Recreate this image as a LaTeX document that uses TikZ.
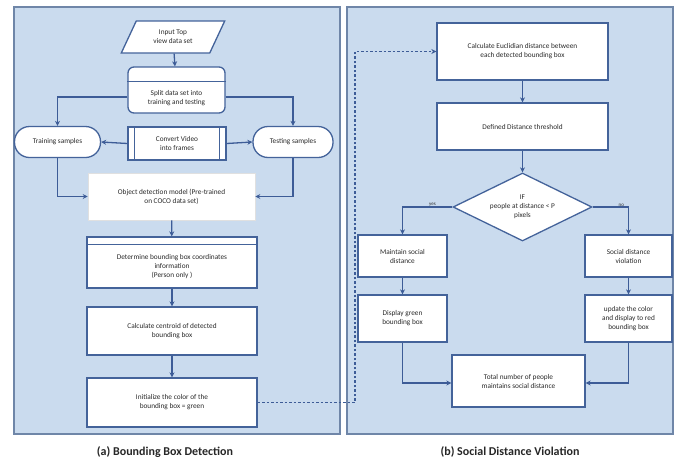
\documentclass[tikz,border=0pt]{standalone}
\usepackage{fontspec}
\setmainfont{Carlito}
\usetikzlibrary{shapes.geometric,arrows.meta,calc}
\definecolor{panelfill}{HTML}{CADBEE}
\definecolor{panelline}{HTML}{6F86A8}
\definecolor{linec}{HTML}{3D5C97}
\definecolor{boxline}{HTML}{44639A}
\definecolor{txtc}{HTML}{2A2A2A}
\tikzset{
  panel/.style={draw=panelline,fill=panelfill,line width=1.2pt},
  stepbox/.style={draw=boxline,fill=white,line width=1.3pt,rectangle,inner sep=1pt,align=center,font=\fontsize{7.3}{9}\selectfont,text=txtc},
  roundbox/.style={stepbox,rounded corners=14pt},
  txt/.style={align=center,font=\fontsize{7.3}{9}\selectfont,text=txtc,inner sep=0pt},
  arr/.style={draw=linec,line width=1.3pt,-{Stealth[length=5pt,width=5pt]}},
  dsh/.style={draw=linec,line width=1.3pt,dash pattern=on 2.5pt off 2pt,-{Stealth[length=5pt,width=5pt]}},
  lab/.style={font=\fontsize{5}{6}\selectfont,text=txtc,inner sep=1pt},
  captext/.style={font=\fontsize{12}{14}\selectfont\bfseries,text=black!85}
}
\begin{document}
\begin{tikzpicture}[x=1pt,y=-1pt]
\useasboundingbox (0,0) rectangle (685,461);
\fill[white] (0,0) rectangle (685,461);
% panels
\draw[panel] (14,7) rectangle (340,434);
\draw[panel] (347,7) rectangle (673,434);
\node[captext] (capa) at (165,452) {(a) Bounding Box Detection};
\node[captext] (capb) at (510,452) {(b) Social Distance Violation};
% left column
\node[stepbox,trapezium,trapezium left angle=62,trapezium right angle=118,trapezium stretches=true,minimum width=104pt,minimum height=32pt] (input) at (173,37) {Input Top\\view data set};
\node[stepbox,rounded corners=6pt,minimum width=97pt,minimum height=46pt] (split) at (176.5,90) {};
\draw[boxline,line width=1.3pt] ($(split.north west)+(0,15)$) -- ($(split.north east)+(0,15)$);
\node[txt] (splitt) at (176.5,98) {Split data set into\\training and testing};
\node[roundbox,rounded corners=15pt,minimum width=86pt,minimum height=31pt] (train) at (57.5,142) {Training samples};
\node[roundbox,rounded corners=15pt,minimum width=80pt,minimum height=31pt] (test) at (293,142) {Testing samples};
\node[stepbox,minimum width=98pt,minimum height=33pt] (conv) at (177,143.5) {Convert Video\\into frames};
\draw[boxline,line width=1.1pt] ($(conv.north west)+(7,0)$) -- ($(conv.south west)+(7,0)$);
\draw[boxline,line width=1.1pt] ($(conv.north east)+(-7,0)$) -- ($(conv.south east)+(-7,0)$);
\node[stepbox,draw=black!12,line width=0.6pt,minimum width=167pt,minimum height=47pt] (obj) at (171.5,196.5) {Object detection model  (Pre-trained\\on COCO data set)};
\node[stepbox,minimum width=170pt,minimum height=51pt] (det) at (172,262.5) {};
\draw[boxline,line width=1.3pt] ($(det.north west)+(0,8)$) -- ($(det.north east)+(0,8)$);
\node[txt] (dett) at (172,267) {Determine bounding box coordinates\\information\\(Person only )};
\node[stepbox,minimum width=170pt,minimum height=48pt] (cent) at (172,331) {Calculate centroid of detected\\bounding box};
\node[stepbox,minimum width=170pt,minimum height=49pt] (init) at (172,402.5) {Initialize the color of the\\bounding box = green};
% right column
\node[stepbox,minimum width=171pt,minimum height=57pt] (euc) at (522.5,51.5) {Calculate Euclidian distance between\\each detected bounding box};
\node[stepbox,minimum width=171pt,minimum height=47pt] (thr) at (522.5,126.5) {Defined Distance threshold};
\node[stepbox,diamond,aspect=2,inner sep=0pt,minimum width=139pt,minimum height=68pt] (dia) at (522.5,207) {IF\\people at distance < P\\pixels};
\node[stepbox,minimum width=89pt,minimum height=42pt] (maint) at (402.5,256) {Maintain social\\distance};
\node[stepbox,minimum width=87pt,minimum height=42pt] (viol) at (628.5,256) {Social distance\\violation};
\node[stepbox,minimum width=89pt,minimum height=47pt] (disp) at (402.5,318.5) {Display green\\bounding box};
\node[stepbox,minimum width=87pt,minimum height=47pt] (upd) at (628.5,318.5) {update the color\\and display to red\\bounding box};
\node[stepbox,minimum width=133pt,minimum height=52pt] (tot) at (518.5,381) {Total number of people\\maintains social distance};
% connectors left
\draw[arr] (input) -- (split);
\draw[arr] ([yshift=-7pt]split.west) -| (train.north);
\draw[arr] ([yshift=-7pt]split.east) -| (test.north);
\draw[arr] (conv.west) -- (train.east);
\draw[arr] (conv.east) -- (test.west);
\draw[arr] (train.south) |- (obj.west);
\draw[arr] (test.south) |- (obj.east);
\draw[arr] (obj) -- (det);
\draw[arr] (det) -- (cent);
\draw[arr] (cent) -- (init);
% dashed link
\coordinate (dc) at (355,402.5);
\draw[dsh] (init.east) -- (dc) |- (euc.west);
% connectors right
\draw[arr] (euc) -- (thr);
\draw[arr] (thr) -- (dia);
\draw[arr] (dia.west) -| node[lab,pos=0.2,above=-1pt] {yes} (maint.north);
\draw[arr] (dia.east) -| node[lab,pos=0.4,above=-1pt] {no} (viol.north);
\draw[arr] (maint) -- (disp);
\draw[arr] (viol) -- (upd);
\draw[arr] (disp.south) |- ([yshift=-2pt]tot.west);
\draw[arr] (upd.south) |- ([yshift=-2pt]tot.east);
\end{tikzpicture}
\end{document}
